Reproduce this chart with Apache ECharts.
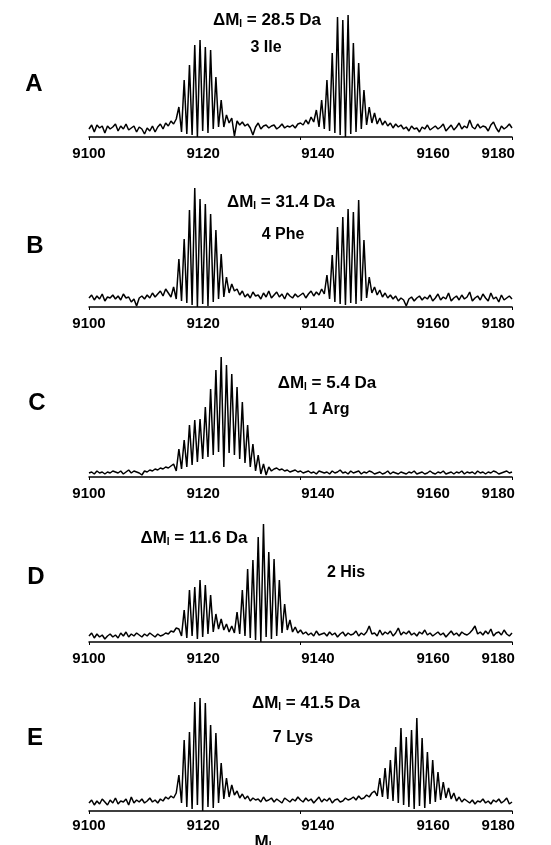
<!DOCTYPE html>
<html>
<head>
<meta charset="utf-8">
<script src="https://cdn.jsdelivr.net/npm/echarts@6/dist/echarts.min.js"></script>
<style>
html,body{margin:0;padding:0;background:#fff;}
#chart{width:551px;height:845px;}
</style>
</head>
<body>
<div id="chart"></div>
<script>
// ---- DATA (intensity sampled every 0.5 Da from 9100 to 9180) ----
const massStart = 9100;
const massStep = 0.5;
const panelLetters = ['A', 'B', 'C', 'D', 'E'];
const deltaLabels = ['28.5', '31.4', '5.4', '11.6', '41.5'];
const residueLabels = ['3 Ile', '4 Phe', '1 Arg', '2 His', '7 Lys'];
const tickLabels = ['9100', '9120', '9140', '9160', '9180'];
const axisTitle = 'M';
const axisTitleSub = 'I';

const specA = [
  8,12,5,12,9,11,4,11,8,10,
  13,6,11,8,13,7,9,11,5,10,
  8,3,9,6,11,5,10,13,8,14,
  11,16,13,18,30,5,57,3,72,2,
  92,0,97,6,90,4,87,8,60,10,
  37,10,22,14,19,1,16,12,15,11,
  13,9,2,10,14,8,11,12,9,11,
  12,8,10,13,9,11,10,12,9,13,
  14,12,17,13,20,15,27,10,37,8,
  57,6,84,4,120,2,117,0,122,3,
  94,5,74,8,47,12,30,14,24,13,
  19,12,16,11,14,9,13,10,12,8,
  10,6,11,8,9,5,10,8,12,7,
  9,11,8,10,13,6,9,12,7,10,
  14,8,11,9,17,10,8,13,9,11,
  10,6,12,15,9,5,11,8,10,13,9
];
const specB = [
  9,12,7,11,8,13,6,10,9,12,
  8,11,7,13,9,10,5,8,1,9,
  11,8,12,9,14,10,13,16,11,18,
  14,10,20,8,48,6,68,4,97,2,
  119,0,108,3,103,1,93,5,77,8,
  53,10,30,14,23,16,18,12,16,10,
  13,9,15,11,12,8,14,10,16,9,
  12,15,10,13,8,14,11,9,13,10,
  12,14,9,13,16,11,15,12,18,13,
  32,8,52,5,80,3,90,2,98,4,
  95,3,107,6,67,9,30,14,20,12,
  17,10,14,9,12,8,11,6,9,7,
  1,8,10,6,9,11,7,10,8,12,
  6,9,13,7,10,8,14,6,9,11,
  7,12,8,10,15,6,9,11,7,13,
  9,6,14,8,10,5,12,7,9,11,8
];
const specC = [
  4,5,3,6,4,5,3,5,4,6,
  5,4,6,3,5,7,4,6,5,4,
  2,6,5,7,6,8,7,9,8,10,
  9,11,13,6,28,8,37,10,52,12,
  57,15,58,18,70,20,88,22,107,25,
  120,10,112,24,103,22,90,18,75,14,
  52,10,33,6,22,3,13,2,10,6,
  8,9,7,8,6,7,5,6,7,5,
  6,4,5,6,4,5,3,6,5,4,
  5,3,6,4,5,7,4,5,3,6,
  4,5,6,3,5,4,6,5,3,4,
  5,3,4,6,3,5,4,3,5,4,
  3,5,4,6,3,4,5,3,4,6,
  4,3,5,4,6,3,4,5,3,5,
  4,6,3,5,4,5,3,6,4,5,
  3,5,4,6,5,3,4,5,6,4,5
];
const specD = [
  6,9,4,8,5,7,3,6,8,5,
  7,4,9,6,10,5,8,6,9,7,
  5,8,6,9,7,5,8,6,7,9,
  8,11,10,14,13,6,32,4,52,6,
  55,3,62,5,57,8,47,10,28,13,
  23,12,18,10,16,9,30,8,52,6,
  73,4,82,2,105,0,118,5,90,3,
  83,6,62,9,38,12,22,10,15,9,
  12,8,10,7,9,6,11,7,8,9,
  6,10,7,9,5,8,10,6,9,7,
  8,11,6,9,7,10,16,8,9,6,
  12,7,10,8,11,6,9,14,7,10,
  8,11,7,9,6,10,8,12,7,9,
  6,8,10,7,9,5,8,11,7,9,
  6,10,8,7,9,12,16,8,10,7,
  11,8,13,6,9,10,7,12,8,6,9
];
const specE = [
  8,11,6,10,7,12,9,6,11,8,
  13,7,10,9,12,6,14,8,11,9,
  12,8,10,13,9,11,8,12,10,14,
  12,15,13,18,36,8,71,4,79,2,
  109,6,113,0,108,4,86,3,78,8,
  48,12,33,14,26,16,20,13,17,12,
  15,10,13,11,12,9,14,10,11,13,
  9,12,10,8,13,11,9,12,10,14,
  11,9,13,10,12,8,11,14,9,12,
  10,13,8,11,12,9,10,13,11,12,
  14,11,15,12,13,16,14,18,20,15,
  33,14,43,12,51,10,64,8,83,6,
  74,4,81,2,93,5,73,3,59,7,
  51,9,39,11,29,13,23,12,18,10,
  14,9,12,10,8,11,7,10,9,12,
  8,10,7,11,9,12,8,10,13,7,9
];
const spectra = [specA, specB, specC, specD, specE];

// ---- LAYOUT ----
const axisYs = [137, 307, 477, 642, 811];
const plotH = 125;
const gridLeft = 89, gridRight = 39;
const labelPos = [9100, 9121.6, 9143.3, 9165.1, 9177.4];
const labelMargins = [9, 9, 9, 9, 7.5];
const letterPos = [[34, 84], [35, 246], [37, 403], [36, 577], [35, 738]];
const deltaPos = [[267, 20], [281, 202], [327, 383], [194, 538], [306, 703]];
const residuePos = [[266, 48], [283, 235], [329, 410], [346, 573], [293, 738]];
const FONT = '"Liberation Sans", Arial, Helvetica, sans-serif';

const chart = echarts.init(document.getElementById('chart'), null, {renderer: 'canvas'});

const grids = [], xAxes = [], yAxes = [], series = [], graphics = [];
const richDelta = {
  n: {font: 'bold 17px ' + FONT, fill: '#000', lineHeight: 19},
  s: {font: 'bold 10px ' + FONT, fill: '#000', verticalAlign: 'bottom', lineHeight: 12, padding: [6, 0, 0, 0]}
};
spectra.forEach((spec, k) => {
  grids.push({left: gridLeft, right: gridRight, top: axisYs[k] - plotH, height: plotH});
  xAxes.push({
    type: 'value', gridIndex: k, min: 9100, max: 9180, interval: 40,
    axisLine: {show: true, onZero: false, lineStyle: {color: '#000', width: 1.5}},
    axisTick: {show: true, length: 3, lineStyle: {color: '#000', width: 1}},
    splitLine: {show: false},
    axisLabel: {
      customValues: labelPos,
      margin: labelMargins[k],
      color: '#000', fontFamily: FONT, fontWeight: 'bold', fontSize: 15,
      hideOverlap: false,
      formatter: function (v) {
        let best = 0, bd = Infinity;
        labelPos.forEach((p, i) => { const d = Math.abs(p - v); if (d < bd) { bd = d; best = i; } });
        return tickLabels[best];
      }
    }
  });
  yAxes.push({type: 'value', gridIndex: k, min: 0, max: plotH, show: false});
  series.push({
    type: 'line', xAxisIndex: k, yAxisIndex: k, showSymbol: false, animation: false,
    lineStyle: {color: '#000', width: 1.5}, z: 3,
    data: spec.map((v, i) => [massStart + i * massStep, v])
  });
  graphics.push({
    type: 'text', x: letterPos[k][0], y: letterPos[k][1],
    style: {text: panelLetters[k], font: 'bold 24px ' + FONT, fill: '#000', textAlign: 'center', textVerticalAlign: 'middle'}
  });
  graphics.push({
    type: 'text', x: deltaPos[k][0], y: deltaPos[k][1],
    style: {
      text: '{n|\u0394M}{s|' + axisTitleSub + '}{n| = ' + deltaLabels[k] + ' Da}',
      textAlign: 'center', textVerticalAlign: 'middle', rich: richDelta
    }
  });
  graphics.push({
    type: 'text', x: residuePos[k][0], y: residuePos[k][1],
    style: {text: residueLabels[k], font: 'bold 16px ' + FONT, fill: '#000', textAlign: 'center', textVerticalAlign: 'middle'}
  });
});
graphics.push({
  type: 'text', x: 263, y: 842,
  style: {
    text: '{n|' + axisTitle + '}{s|' + axisTitleSub + '}',
    textAlign: 'center', textVerticalAlign: 'middle', rich: richDelta
  }
});

chart.setOption({
  animation: false,
  backgroundColor: '#fff',
  grid: grids,
  xAxis: xAxes,
  yAxis: yAxes,
  series: series,
  graphic: graphics
});
</script>
</body>
</html>
